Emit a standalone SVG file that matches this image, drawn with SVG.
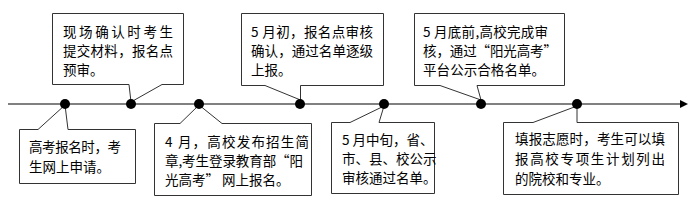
<svg xmlns="http://www.w3.org/2000/svg" width="700" height="206" viewBox="0 0 700 206">
<style>
.box{fill:#fff;stroke:#333;stroke-width:1}
.t{font-family:"Noto Sans CJK SC","Liberation Sans",sans-serif;font-size:13.5px;fill:#000}
.dot{fill:#000}
.axis{stroke:#808080;stroke-width:2;fill:none}
</style>
<g id="callouts">
<g id="n1">
<path class="box" d="M52.5,13.5 H183.5 V84.5 H162 L131,102 L129,84.5 H52.5 Z"/>
<text class="t" x="63" y="37" textLength="110" lengthAdjust="spacing">现场确认时考生</text>
<text class="t" x="63" y="56" textLength="110" lengthAdjust="spacing">提交材料，报名点</text>
<text class="t" x="63" y="75">预审。</text>
</g>
<g id="n2">
<path class="box" d="M241.5,13.5 H383.5 V85.5 H300.5 L300.5,100 L265,85.5 H241.5 Z"/>
<text class="t" x="251" y="37" textLength="122" lengthAdjust="spacing">5 月初，报名点审核</text>
<text class="t" x="251" y="56" textLength="122" lengthAdjust="spacing">确认，通过名单逐级</text>
<text class="t" x="251" y="75">上报。</text>
</g>
<g id="n3">
<path class="box" d="M414.5,13.5 H564.5 V85.5 H477 L481,100 L440,85.5 H414.5 Z"/>
<text class="t" x="423" y="37" textLength="125" lengthAdjust="spacing">5 月底前,高校完成审</text>
<text class="t" x="423" y="56" textLength="134" lengthAdjust="spacing">核，通过“阳光高考”</text>
<text class="t" x="423" y="75" textLength="122" lengthAdjust="spacing">平台公示合格名单。</text>
</g>
<g id="n4">
<path class="box" d="M19.5,129.5 H38 L65,105 L68,129.5 H135.5 V183.5 H19.5 Z"/>
<text class="t" x="29" y="152" textLength="92" lengthAdjust="spacing">高考报名时，考</text>
<text class="t" x="29" y="172">生网上申请。</text>
</g>
<g id="n5">
<path class="box" d="M154.5,123.5 H180 L199,105 L222,123.5 H311.5 V195.5 H154.5 Z"/>
<text class="t" x="165" y="147" textLength="144" lengthAdjust="spacing">4 月，高校发布招生简</text>
<text class="t" x="165" y="166" textLength="138" lengthAdjust="spacing">章,考生登录教育部“阳</text>
<text class="t" x="165" y="185">光高考” 网上报名。</text>
</g>
<g id="n6">
<path class="box" d="M331.5,122.5 H350 L384,106 L379,122.5 H434.5 V193.5 H331.5 Z"/>
<text class="t" x="342" y="145">5 月中旬，省、</text>
<text class="t" x="342" y="164">市、县、校公示</text>
<text class="t" x="342" y="183">审核通过名单。</text>
</g>
<g id="n7">
<path class="box" d="M503.5,122.5 H533 L577,106 L577,122.5 H678.5 V194.5 H503.5 Z"/>
<text class="t" x="515" y="144" textLength="150" lengthAdjust="spacing">填报志愿时，考生可以填</text>
<text class="t" x="515" y="164" textLength="150" lengthAdjust="spacing">报高校专项生计划列出</text>
<text class="t" x="515" y="184">的院校和专业。</text>
</g>
</g>
<g id="connectors">
<line class="axis" x1="8" y1="104" x2="681" y2="104"/>
<polygon points="680,100 688,104 680,108" fill="#000"/>
<circle class="dot" cx="65" cy="104" r="5"/>
<circle class="dot" cx="131" cy="104" r="5"/>
<circle class="dot" cx="199" cy="104" r="5"/>
<circle class="dot" cx="300" cy="104" r="5"/>
<circle class="dot" cx="384" cy="104" r="5"/>
<circle class="dot" cx="481" cy="104" r="5"/>
<circle class="dot" cx="577" cy="104" r="5"/>
</g>
</svg>
